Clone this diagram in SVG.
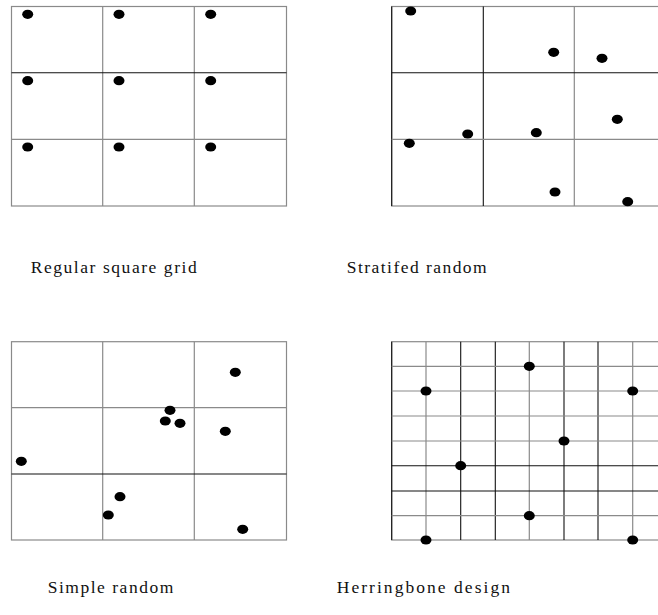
<svg xmlns="http://www.w3.org/2000/svg" width="658" height="615" viewBox="0 0 658 615">
<style>
.g{stroke:#8a8a8a;stroke-width:1.2;fill:none}
.k{stroke:#111;stroke-width:1.1;fill:none}
.d{fill:#000}
.t{font-family:"Liberation Serif","Times New Roman",serif;font-size:17.5px;fill:#111}
</style>
<rect width="658" height="615" fill="#fff"/>
<g id="regular">
<rect class="g" x="11.5" y="6.5" width="275" height="199.5"/>
<line class="g" x1="102.7" y1="6.5" x2="102.7" y2="206"/>
<line class="g" x1="194.3" y1="6.5" x2="194.3" y2="206"/>
<line class="k" x1="11.5" y1="72.7" x2="286.5" y2="72.7"/>
<line class="g" x1="11.5" y1="139.3" x2="286.5" y2="139.3"/>
<g class="d">
<ellipse cx="27.7" cy="14.3" rx="5.5" ry="4.6"/><ellipse cx="119" cy="14.3" rx="5.5" ry="4.6"/><ellipse cx="210.7" cy="14.3" rx="5.5" ry="4.6"/>
<ellipse cx="27.7" cy="80.7" rx="5.5" ry="4.6"/><ellipse cx="119" cy="80.7" rx="5.5" ry="4.6"/><ellipse cx="210.7" cy="80.7" rx="5.5" ry="4.6"/>
<ellipse cx="27.7" cy="147" rx="5.5" ry="4.6"/><ellipse cx="119" cy="147" rx="5.5" ry="4.6"/><ellipse cx="210.7" cy="147" rx="5.5" ry="4.6"/>
</g>
<text class="t" x="30.7" y="273.3" textLength="166" lengthAdjust="spacing">Regular square grid</text>
</g>
<g id="stratified">
<rect class="g" x="391.7" y="6.5" width="275" height="199.5"/>
<line class="k" x1="391.7" y1="6.5" x2="391.7" y2="206"/>
<line class="k" x1="483.3" y1="6.5" x2="483.3" y2="206"/>
<line class="g" x1="574.3" y1="6.5" x2="574.3" y2="206"/>
<line class="k" x1="391.7" y1="72.7" x2="666" y2="72.7"/>
<line class="g" x1="391.7" y1="139.3" x2="666" y2="139.3"/>
<g class="d">
<ellipse cx="410.7" cy="11" rx="5.5" ry="4.6"/><ellipse cx="553.7" cy="52.3" rx="5.5" ry="4.6"/><ellipse cx="602" cy="58.3" rx="5.5" ry="4.6"/>
<ellipse cx="617.3" cy="119.3" rx="5.5" ry="4.6"/><ellipse cx="467.7" cy="134" rx="5.5" ry="4.6"/><ellipse cx="536.3" cy="132.7" rx="5.5" ry="4.6"/>
<ellipse cx="409.3" cy="143.3" rx="5.5" ry="4.6"/><ellipse cx="555" cy="192" rx="5.5" ry="4.6"/><ellipse cx="627.7" cy="201.7" rx="5.5" ry="4.6"/>
</g>
<text class="t" x="346.7" y="273.3" textLength="140" lengthAdjust="spacing">Stratifed random</text>
</g>
<g id="simple">
<rect class="g" x="11.5" y="341.7" width="275" height="198.3"/>
<line class="g" x1="102.7" y1="341.7" x2="102.7" y2="540"/>
<line class="g" x1="194.3" y1="341.7" x2="194.3" y2="540"/>
<line class="g" x1="11.5" y1="407.7" x2="286.5" y2="407.7"/>
<line class="k" x1="11.5" y1="474" x2="286.5" y2="474"/>
<g class="d">
<ellipse cx="235.3" cy="372.3" rx="5.5" ry="4.6"/><ellipse cx="170" cy="410.3" rx="5.5" ry="4.6"/><ellipse cx="165.3" cy="421" rx="5.5" ry="4.6"/>
<ellipse cx="180" cy="423.3" rx="5.5" ry="4.6"/><ellipse cx="225.3" cy="431.3" rx="5.5" ry="4.6"/><ellipse cx="21.3" cy="461.3" rx="5.5" ry="4.6"/>
<ellipse cx="120" cy="496.7" rx="5.5" ry="4.6"/><ellipse cx="108.3" cy="515" rx="5.5" ry="4.6"/><ellipse cx="242.7" cy="529.3" rx="5.5" ry="4.6"/>
</g>
<text class="t" x="47.7" y="593.3" textLength="125.6" lengthAdjust="spacing">Simple random</text>
</g>
<g id="herringbone">
<rect class="g" x="391.7" y="341.7" width="275" height="198.3"/>
<line class="k" x1="391.7" y1="341.7" x2="391.7" y2="540"/>
<line class="g" x1="426" y1="341.7" x2="426" y2="540"/>
<line class="k" x1="460.7" y1="341.7" x2="460.7" y2="540"/>
<line class="k" x1="495.3" y1="341.7" x2="495.3" y2="540"/>
<line class="g" x1="529.3" y1="341.7" x2="529.3" y2="540"/>
<line class="k" x1="564" y1="341.7" x2="564" y2="540"/>
<line class="k" x1="598" y1="341.7" x2="598" y2="540"/>
<line class="g" x1="632.7" y1="341.7" x2="632.7" y2="540"/>
<line class="g" x1="391.7" y1="366.3" x2="666" y2="366.3"/>
<line class="g" x1="391.7" y1="391" x2="666" y2="391"/>
<line class="g" x1="391.7" y1="416" x2="666" y2="416"/>
<line class="g" x1="391.7" y1="441" x2="666" y2="441"/>
<line class="k" x1="391.7" y1="465.7" x2="666" y2="465.7"/>
<line class="k" x1="391.7" y1="491" x2="666" y2="491"/>
<line class="g" x1="391.7" y1="515.7" x2="666" y2="515.7"/>
<g class="d">
<ellipse cx="426" cy="391" rx="5.5" ry="4.6"/><ellipse cx="529.3" cy="366.3" rx="5.5" ry="4.6"/><ellipse cx="632.7" cy="391" rx="5.5" ry="4.6"/>
<ellipse cx="564" cy="441" rx="5.5" ry="4.6"/><ellipse cx="460.7" cy="465.7" rx="5.5" ry="4.6"/><ellipse cx="529.3" cy="515.7" rx="5.5" ry="4.6"/>
<ellipse cx="426" cy="540" rx="5.5" ry="4.6"/><ellipse cx="632.7" cy="540" rx="5.5" ry="4.6"/>
</g>
<text class="t" x="336.7" y="593.3" textLength="173.3" lengthAdjust="spacing">Herringbone design</text>
</g>
<g id="connectors"/>
</svg>
